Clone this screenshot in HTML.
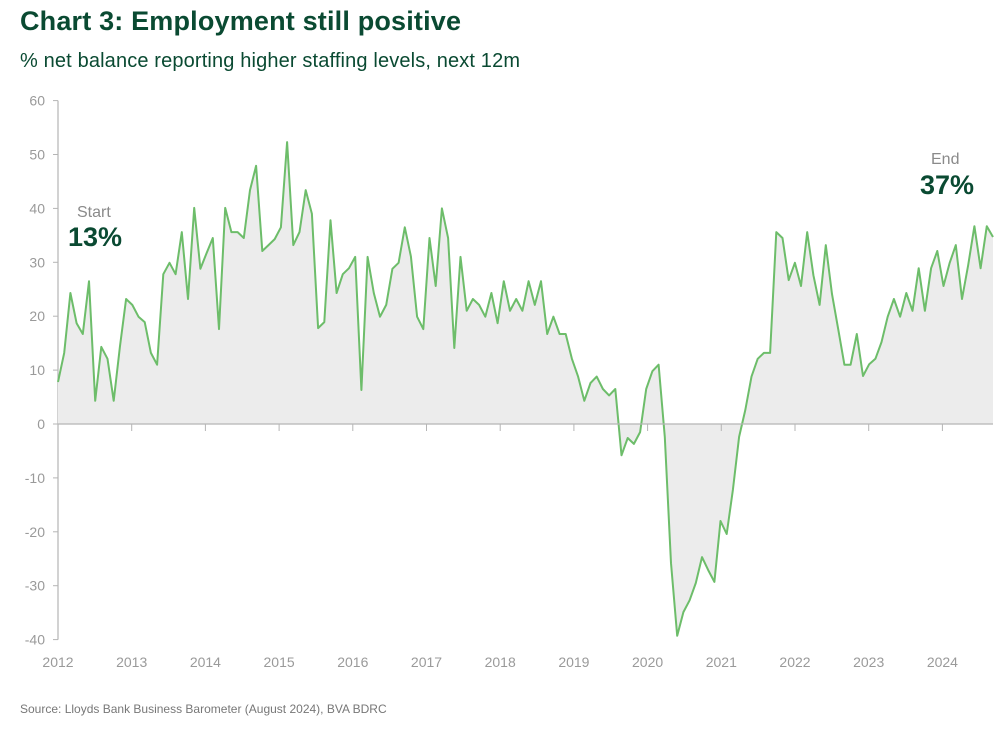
<!DOCTYPE html>
<html><head><meta charset="utf-8">
<style>
body{margin:0;background:#fff;width:999px;height:726px;overflow:hidden;font-family:"Liberation Sans",sans-serif;}
</style></head>
<body>
<svg width="999" height="726" xmlns="http://www.w3.org/2000/svg">
<text x="20" y="30" font-size="27" font-weight="bold" fill="#0a4a32" textLength="441">Chart 3: Employment still positive</text>
<text x="20" y="67" font-size="20" fill="#0a4a32" textLength="500">% net balance reporting higher staffing levels, next 12m</text>
<g id="yaxis"></g>
<g id="xaxis"></g>
<path id="area" fill="#ececec"></path>
<path id="line" fill="none" stroke="#6dbd6a" stroke-width="2" stroke-linejoin="round"></path>
<line id="zero" stroke="#b5b5b5" stroke-width="1.2"></line>
<g id="xticks"></g>
<text x="77" y="217" font-size="16" fill="#8a8a8a">Start</text>
<text x="68" y="246" font-size="27" font-weight="bold" fill="#0a4a32">13%</text>
<text x="931" y="164" font-size="16" fill="#8a8a8a">End</text>
<text x="920" y="194" font-size="27" font-weight="bold" fill="#0a4a32">37%</text>
<text x="20" y="713" font-size="12" fill="#777">Source: Lloyds Bank Business Barometer (August 2024), BVA BDRC</text>
</svg>
<script>
const values = [7.8,13.2,24.3,18.7,16.7,26.5,4.3,14.3,12.1,4.3,14.3,23.2,22.1,19.9,18.9,13.2,11.0,27.8,29.9,27.8,35.6,23.2,40.1,28.8,31.7,34.5,17.6,40.1,35.6,35.6,34.5,43.4,47.9,32.1,33.2,34.3,36.5,52.3,33.2,35.6,
43.4,39.0,17.8,18.9,37.8,24.3,27.8,28.9,31.0,6.3,31.0,24.3,19.9,22.1,28.8,29.9,36.5,31.1,19.9,17.6,34.5,25.6,40.0,34.5,14.1,31.0,21.0,23.2,22.1,19.9,24.3,18.7,26.5,21.0,23.2,21.0,26.5,22.1,26.5,16.7,19.9,16.7,16.7,12.1,8.8,
4.3,7.6,8.8,6.5,5.3,6.5,-5.8,-2.6,-3.7,-1.5,6.5,9.8,11.0,-2.4,-25.8,-39.3,-34.9,-32.7,-29.5,-24.7,-27.1,-29.3,-18.0,-20.4,-12.2,-2.4,2.6,8.8,12.1,13.2,13.2,35.6,34.5,
26.7,29.9,25.6,35.6,27.6,22.1,33.2,24.1,17.6,11.0,11.0,16.7,8.9,11.1,12.1,15.2,19.9,23.2,19.9,24.3,21.0,28.9,21.0,28.9,32.1,25.6,29.9,33.2,23.2,29.5,36.7,28.9,36.7,34.7];
const yTicks = [60,50,40,30,20,10,0,-10,-20,-30,-40];
const years = [2012,2013,2014,2015,2016,2017,2018,2019,2020,2021,2022,2023,2024];
const NS="http://www.w3.org/2000/svg";
const X0=58, X1=993, yScale=v=>424-v*5.39;
const xIdx=i=>X0+i*(X1-X0)/(values.length-1);
const xYear=y=>X0+(y-years[0])*73.7;
function mk(tag,attrs,parent){const e=document.createElementNS(NS,tag);for(const k in attrs)e.setAttribute(k,attrs[k]);parent.appendChild(e);return e;}
const ya=document.getElementById('yaxis');
const ax=mk('line',{x1:X0,x2:X0,y1:yScale(60),y2:yScale(-40),stroke:'#b5b5b5','stroke-width':1.2},ya);


yTicks.forEach(v=>{
  const t=mk('line',{x1:X0-5,x2:X0,y1:yScale(v),y2:yScale(v),stroke:'#b5b5b5'},ya);
  
  
  const l=mk('text',{x:45,y:yScale(v)+5,'text-anchor':'end','font-size':14,fill:'#9a9a9a'},ya);
  l.textContent=v;
  
  
});
const xa=document.getElementById('xaxis');
years.forEach(y=>{
  const t=mk('line',{x1:xYear(y),x2:xYear(y),y1:yScale(0),y2:yScale(0)+7,stroke:'#b5b5b5'},document.getElementById('xticks'));
  
  
  const l=mk('text',{x:xYear(y),y:667,'text-anchor':'middle','font-size':14,fill:'#9a9a9a'},xa);
  l.textContent=y;
  
  
});
let d='';values.forEach((v,i)=>{d+=(i?'L':'M')+xIdx(i).toFixed(1)+','+yScale(v).toFixed(1);});
document.getElementById('line').setAttribute('d',d);
document.getElementById('area').setAttribute('d',d+'L'+xIdx(values.length-1)+','+yScale(0)+'L'+X0+','+yScale(0)+'Z');
const z=document.getElementById('zero');
z.setAttribute('x1',X0);z.setAttribute('x2',X1);z.setAttribute('y1',yScale(0));z.setAttribute('y2',yScale(0));
</script>
</body></html>
